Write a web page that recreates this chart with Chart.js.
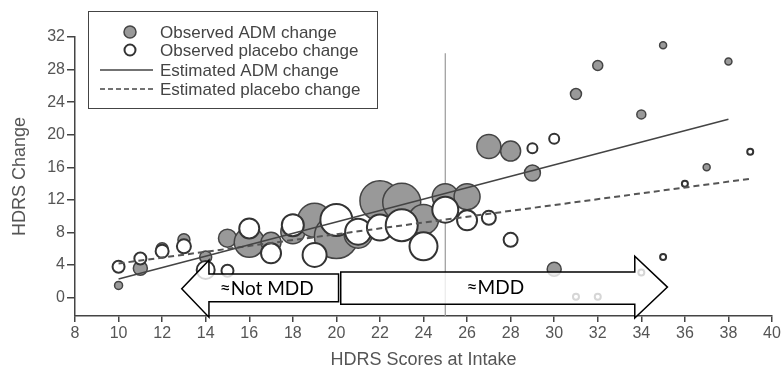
<!DOCTYPE html>
<html>
<head>
<meta charset="utf-8">
<script src="https://cdn.jsdelivr.net/npm/chart.js@4"></script>
<style>
  body { margin: 0; background: #fff; }
  #wrap { width: 784px; height: 369px; }
</style>
</head>
<body>
<div id="wrap"><canvas id="hdrsChart"></canvas></div>
<script>
// observed ADM change (grey bubbles): intake score, change, bubble radius
const admIntake = [10, 11, 12, 13, 14, 15, 16, 17, 18, 19, 20, 21, 22, 23, 24, 25, 26, 27, 28, 29, 30, 31, 32, 34, 35, 37, 38];
const admChange = [1.5, 3.6, 6.0, 7.1, 5.0, 7.3, 6.8, 6.8, 8.1, 9.5, 7.5, 7.8, 11.9, 11.7, 9.6, 12.4, 12.4, 18.55, 18.0, 15.3, 3.5, 25.0, 28.5, 22.5, 31.0, 16.0, 29.0];
const admSize   = [4, 7, 6, 6, 6, 9, 15, 10, 12, 17, 22, 14, 20, 19, 15, 13, 13, 12, 10, 8, 7, 5.5, 5, 4.5, 3.5, 3.5, 3.5];

// observed placebo change (white bubbles)
const plcIntake = [10, 11, 12, 13, 14, 15, 16, 17, 18, 19, 20, 21, 22, 23, 24, 25, 26, 27, 28, 29, 30, 31, 32, 34, 35, 36, 39];
const plcChange = [3.8, 4.8, 5.7, 6.3, 3.4, 3.3, 8.5, 5.45, 8.9, 5.25, 9.55, 8.1, 8.6, 8.9, 6.3, 10.8, 9.5, 9.8, 7.1, 18.35, 19.5, 0.1, 0.1, 3.1, 5.0, 14.0, 17.9];
const plcSize   = [6, 6, 6.5, 7, 9, 6, 10, 10, 11, 12, 16, 13, 13, 16, 14, 13, 10, 7, 7, 5, 5, 3, 3, 3, 3, 3, 3];

// estimated (fitted) lines, end points
const admFitX = [10, 38];
const admFitY = [2.3, 21.9];
const plcFitX = [10, 39];
const plcFitY = [4.2, 14.6];

const xTicks = [8, 40, 2];   // min, max, step
const yTicks = [-2.25, 32, 2];

const legendItems = ["Observed ADM change", "Observed placebo change", "Estimated ADM change", "Estimated placebo change"];

const toPoints = (xs, ys, rs) => xs.map((x, i) => rs ? { x: x, y: ys[i], r: rs[i] } : { x: x, y: ys[i] });

const overlay = {
  id: "overlay",
  beforeDatasetsDraw(chart) {
    const c = chart.ctx, x = chart.scales.x, y = chart.scales.y;
    c.save();
    c.strokeStyle = "#9a9a9a";
    c.lineWidth = 1.2;
    c.beginPath();
    c.moveTo(x.getPixelForValue(25), y.getPixelForValue(30));
    c.lineTo(x.getPixelForValue(25), chart.chartArea.bottom);
    c.stroke();
    c.restore();
  },
  afterDatasetsDraw(chart) {
    const c = chart.ctx, x = chart.scales.x, y = chart.scales.y;
    const px = v => x.getPixelForValue(v), py = v => y.getPixelForValue(v);
    c.save();
    c.fillStyle = "rgba(255,255,255,0.8)";
    c.strokeStyle = "#000";
    c.lineWidth = 1.5;
    c.lineJoin = "miter";

    // left arrow
    c.beginPath();
    c.moveTo(px(12.9), py(1.1));
    c.lineTo(px(14.15), py(4.6));
    c.lineTo(px(14.15), py(2.9));
    c.lineTo(px(20.1), py(2.9));
    c.lineTo(px(20.1), py(-0.5));
    c.lineTo(px(14.15), py(-0.5));
    c.lineTo(px(14.15), py(-2.4));
    c.closePath();
    c.fill(); c.stroke();

    // right arrow
    c.beginPath();
    c.moveTo(px(35.2), py(1.3));
    c.lineTo(px(33.7), py(5.1));
    c.lineTo(px(33.7), py(3.15));
    c.lineTo(px(20.2), py(3.15));
    c.lineTo(px(20.2), py(-0.8));
    c.lineTo(px(33.7), py(-0.8));
    c.lineTo(px(33.7), py(-2.5));
    c.closePath();
    c.fill(); c.stroke();

    c.fillStyle = "#000";
    c.font = "19px Lato, 'Open Sans', sans-serif";
    c.textAlign = "center";
    c.textBaseline = "middle";
    c.fillText("≈Not MDD", px(16.8), py(1.1));
    c.fillText("≈MDD", px(27.3), py(1.2));

    // legend box
    c.strokeStyle = "#444";
    c.lineWidth = 1;
    c.strokeRect(88.5, 11.5, 289, 97);
    const rows = [32, 50, 70, 89];
    c.beginPath();
    c.arc(130, rows[0], 6, 0, Math.PI * 2);
    c.fillStyle = "#999";
    c.fill();
    c.strokeStyle = "#444";
    c.lineWidth = 1.5;
    c.stroke();
    c.beginPath();
    c.arc(130, rows[1], 5.5, 0, Math.PI * 2);
    c.fillStyle = "#fff";
    c.fill();
    c.strokeStyle = "#333";
    c.lineWidth = 2;
    c.stroke();
    c.lineWidth = 1.5;
    c.strokeStyle = "#444";
    c.beginPath();
    c.moveTo(100, rows[2]); c.lineTo(153, rows[2]);
    c.stroke();
    c.setLineDash([5, 3]);
    c.beginPath();
    c.moveTo(100, rows[3]); c.lineTo(153, rows[3]);
    c.stroke();
    c.setLineDash([]);
    c.fillStyle = "#444";
    c.font = "17px 'Liberation Sans', Arial, sans-serif";
    c.textAlign = "left";
    legendItems.forEach((t, i) => c.fillText(t, 160, rows[i] + 1));
    c.restore();
  }
};

Chart.defaults.font.family = "'Liberation Sans', Arial, sans-serif";
Chart.defaults.color = "#555";

new Chart(document.getElementById("hdrsChart"), {
  type: "bubble",
  data: {
    datasets: [
      {
        type: "line", label: "Estimated ADM change", order: 0,
        data: toPoints(admFitX, admFitY),
        borderColor: "#444", borderWidth: 1.6, pointRadius: 0, fill: false
      },
      {
        type: "line", label: "Estimated placebo change", order: 0,
        data: toPoints(plcFitX, plcFitY),
        borderColor: "#555", borderWidth: 2, borderDash: [6, 4], pointRadius: 0, fill: false
      },
      {
        label: "Observed placebo change", order: 1,
        data: toPoints(plcIntake, plcChange, plcSize),
        backgroundColor: "#fff", borderColor: "#333", borderWidth: 2
      },
      {
        label: "Observed ADM change", order: 2,
        data: toPoints(admIntake, admChange, admSize),
        backgroundColor: "#999", borderColor: "#444", borderWidth: 1.5
      }
    ]
  },
  options: {
    responsive: true,
    maintainAspectRatio: false,
    animation: false,
    events: [],
    layout: { autoPadding: false, padding: { left: 0, right: 12, top: 37, bottom: 0 } },
    plugins: { legend: { display: false }, tooltip: { enabled: false } },
    scales: {
      x: {
        type: "linear", min: xTicks[0], max: xTicks[1],
        afterFit: s => { s.height = 53; },
        border: { display: true, color: "#444", width: 1.5 },
        grid: { display: true, drawOnChartArea: false, drawTicks: true, tickLength: 6, color: "#444", lineWidth: 1.5 },
        ticks: { stepSize: xTicks[2], padding: 2, color: "#555", font: { size: 16 } },
        title: { display: true, text: "HDRS Scores at Intake", color: "#555", font: { size: 18, lineHeight: 1 }, padding: { top: 0, bottom: 0 } }
      },
      y: {
        type: "linear", min: yTicks[0], max: yTicks[1],
        afterFit: s => { s.width = 75; },
        afterBuildTicks: s => { s.ticks = s.ticks.filter(t => t.value % 2 === 0); },
        border: { display: true, color: "#444", width: 1.5 },
        grid: { display: true, drawOnChartArea: false, drawTicks: true, tickLength: 8, color: "#444", lineWidth: 1.5 },
        ticks: {
          stepSize: yTicks[2], padding: 2, color: "#555", font: { size: 16 },
          callback: v => (v % 4 === 0 ? String(v) : "")
        },
        title: { display: true, text: "HDRS Change", color: "#555", font: { size: 18 }, padding: { top: 9, bottom: 0 } }
      }
    }
  },
  plugins: [overlay]
});
</script>
</body>
</html>
